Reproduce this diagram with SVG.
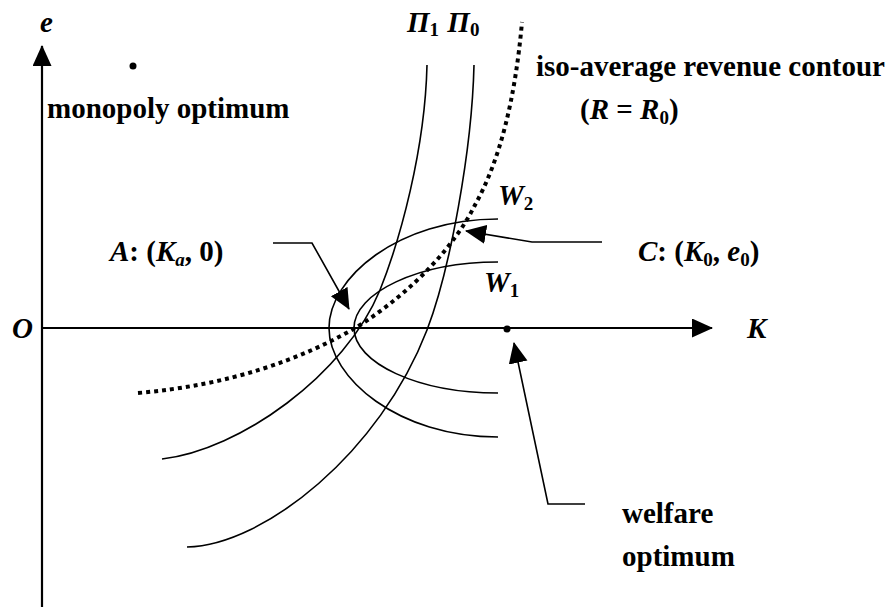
<svg xmlns="http://www.w3.org/2000/svg" width="895" height="609" viewBox="0 0 895 609">
<style>
  text { font-family: "Liberation Serif", "Times New Roman", serif; font-weight: bold; font-size: 29px; fill: #000; }
  .it { font-style: italic; }
  .sub { font-size: 19px; }
  .axis { stroke: #000; stroke-width: 2.2; fill: none; }
  .curve { stroke: #000; stroke-width: 1.6; fill: none; }
  .dotted { stroke: #000; stroke-width: 4; fill: none; stroke-dasharray: 4 4; }
  .leader { stroke: #000; stroke-width: 1.6; fill: none; }
</style>
<defs>
  <marker id="ah" markerUnits="userSpaceOnUse" markerWidth="22" markerHeight="20" refX="20" refY="9.5" orient="auto">
    <path d="M0,0 L21,9.5 L0,19 Z" fill="#000"/>
  </marker>
</defs>
<rect width="895" height="609" fill="#fff"/>

<g id="axes">
  <line class="axis" x1="42" y1="607" x2="42" y2="46" marker-end="url(#ah)"/>
  <line class="axis" x1="42" y1="328" x2="712" y2="328" marker-end="url(#ah)"/>
  <text id="label-e" class="it" x="40" y="32">e</text>
  <text id="label-O" class="it" x="12" y="338">O</text>
  <text id="label-K" class="it" x="747" y="338">K</text>
</g>

<g id="iso-revenue">
  <path class="dotted" d="M138,393 C230,385 300,360 357,327 C415,290 455,245 475,205 C500,160 515,100 522,22"/>
  <text x="536" y="76">iso-average revenue contour</text>
  <text x="580" y="119">(<tspan class="it">R</tspan> = <tspan class="it">R</tspan><tspan class="sub" dy="5">0</tspan><tspan dy="-5">)</tspan></text>
</g>

<g id="pi1">
  <path class="curve" d="M427,65 C425,150 400,240 380,290 C345,375 240,450 162,459"/>
</g>
<g id="pi0">
  <path class="curve" d="M474,65 C472,150 450,270 427,330 C380,452 265,545 187,547"/>
</g>
<g id="pi-labels">
  <text class="it" x="407" y="32">Π<tspan class="sub" dy="4" font-style="normal">1</tspan><tspan dx="1" dy="-4"> Π</tspan><tspan class="sub" dy="4" font-style="normal">0</tspan></text>
</g>

<g id="w2">
  <path class="curve" d="M498,219 C398,219 329,278 329,328 C329,378 398,437 498,437"/>
  <text class="it" x="498" y="205">W<tspan class="sub" dy="5" font-style="normal">2</tspan></text>
</g>
<g id="w1">
  <path class="curve" d="M498,262 C418,262 354,293 354,328 C354,363 418,393 498,393"/>
  <text class="it" x="484" y="292">W<tspan class="sub" dy="5" font-style="normal">1</tspan></text>
</g>

<g id="monopoly-optimum">
  <circle cx="133" cy="66" r="3.5" fill="#000"/>
  <text x="47" y="118">monopoly optimum</text>
</g>

<g id="welfare-optimum">
  <circle cx="507" cy="329" r="3.5" fill="#000"/>
  <text x="622" y="523">welfare</text>
  <text x="622" y="566">optimum</text>
</g>

<g id="point-A">
  <text x="110" y="261"><tspan class="it">A</tspan>: (<tspan class="it">K</tspan><tspan class="sub it" dy="5">a</tspan><tspan dy="-5">, 0)</tspan></text>
</g>
<g id="point-C">
  <text x="638" y="261"><tspan class="it">C</tspan>: (<tspan class="it">K</tspan><tspan class="sub" dy="5">0</tspan><tspan dy="-5">, </tspan><tspan class="it">e</tspan><tspan class="sub" dy="5">0</tspan><tspan dy="-5">)</tspan></text>
</g>

<g id="connectors">
  <polyline class="leader" points="273,243 312,243 349,309" marker-end="url(#ah)"/>
  <polyline class="leader" points="602,242 532,242 466,231" marker-end="url(#ah)"/>
  <polyline class="leader" points="585,504 548,504 514,343" marker-end="url(#ah)"/>
</g>
</svg>
